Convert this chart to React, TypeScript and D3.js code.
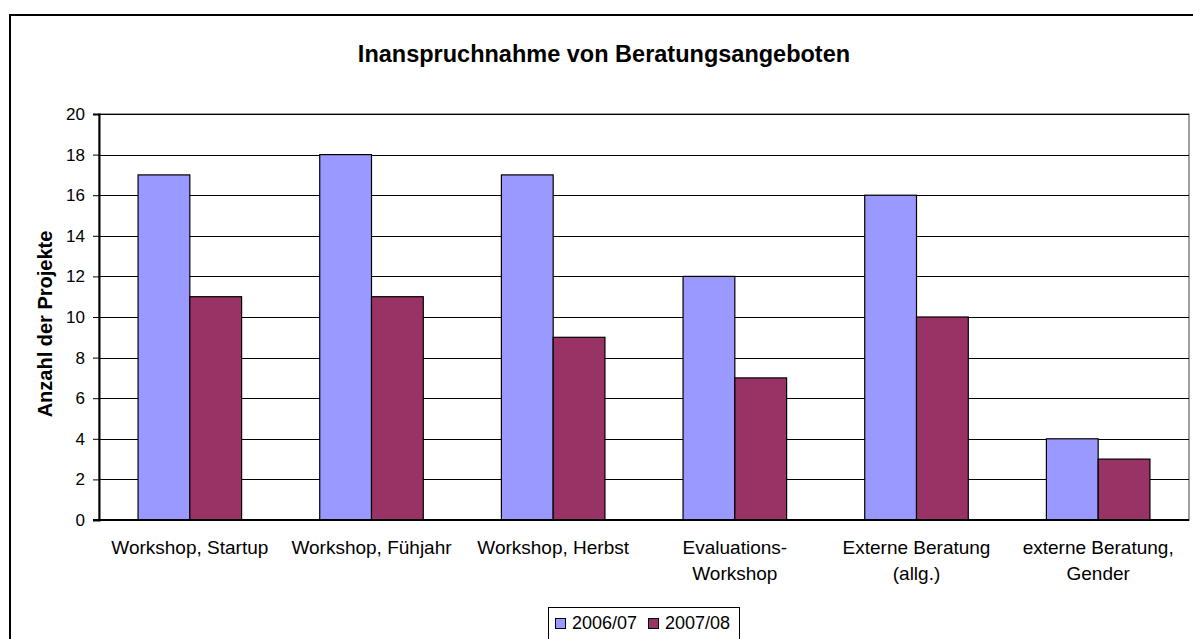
import React, { useRef, useEffect } from "react";
import * as d3 from "d3";

const categories = [
  ["Workshop, Startup"],
  ["Workshop, Fühjahr"],
  ["Workshop, Herbst"],
  ["Evaluations-", "Workshop"],
  ["Externe Beratung", "(allg.)"],
  ["externe Beratung,", "Gender"],
];
const seriesNames = ["2006/07", "2007/08"];
const values2006 = [17, 18, 17, 12, 16, 4];
const values2007 = [11, 11, 9, 7, 10, 3];
const yTicks = [0, 2, 4, 6, 8, 10, 12, 14, 16, 18, 20];
const colors = ["#9999FF", "#993366"];

const FONT = "'Liberation Sans', Arial, sans-serif";

const App = () => {
  const svgRef = useRef(null);
  const width = 1193;
  const height = 639;
  const plot = { left: 99, right: 1189, top: 114, bottom: 520 };

  useEffect(() => {
    const svg = d3.select(svgRef.current);
    svg.selectAll("*").remove();

    // outer chart border
    svg.append("rect")
      .attr("x", 10).attr("y", 15)
      .attr("width", 1200).attr("height", 660)
      .attr("fill", "white")
      .attr("stroke", "black")
      .attr("stroke-width", 2);

    svg.append("text")
      .attr("x", 604).attr("y", 62)
      .attr("text-anchor", "middle")
      .attr("font-family", FONT)
      .attr("font-weight", "bold")
      .attr("font-size", "23.5px")
      .text("Inanspruchnahme von Beratungsangeboten");

    const keys = categories.map((c) => c.join(" "));
    const x0 = d3.scaleBand()
      .domain(keys)
      .range([plot.left, plot.right])
      .paddingInner(0.43)
      .paddingOuter(0.215);
    const x1 = d3.scaleBand()
      .domain(seriesNames)
      .range([0, x0.bandwidth()]);
    const y = d3.scaleLinear().domain([0, 20]).range([plot.bottom, plot.top]);

    // plot area
    svg.append("rect")
      .attr("x", plot.left).attr("y", plot.top)
      .attr("width", plot.right - plot.left)
      .attr("height", plot.bottom - plot.top)
      .attr("fill", "white")
      .attr("stroke", "#808080")
      .attr("stroke-width", 1.5);

    // gridlines
    svg.append("g")
      .selectAll("line")
      .data(yTicks.filter((t) => t > 0))
      .join("line")
      .attr("x1", plot.left).attr("x2", plot.right)
      .attr("y1", (d) => Math.round(y(d)) + 0.5)
      .attr("y2", (d) => Math.round(y(d)) + 0.5)
      .attr("stroke", "black")
      .attr("stroke-width", 1);

    // bars
    const series = [values2006, values2007];
    const groups = svg.append("g")
      .selectAll("g")
      .data(keys)
      .join("g")
      .attr("transform", (d) => `translate(${x0(d)},0)`);
    groups.selectAll("rect")
      .data((d, i) => seriesNames.map((s, j) => ({ s, v: series[j][i], j })))
      .join("rect")
      .attr("x", (d) => x1(d.s))
      .attr("y", (d) => y(d.v))
      .attr("width", x1.bandwidth())
      .attr("height", (d) => y(0) - y(d.v))
      .attr("fill", (d) => colors[d.j])
      .attr("stroke", "black")
      .attr("stroke-width", 1.2);

    // y axis
    const yAxis = svg.append("g")
      .attr("transform", `translate(${plot.left},0)`)
      .call(d3.axisLeft(y).tickValues(yTicks).tickSize(6).tickPadding(8));
    yAxis.select(".domain").attr("stroke", "black").attr("stroke-width", 2);
    yAxis.selectAll(".tick line").attr("stroke", "black");
    yAxis.selectAll(".tick text")
      .attr("font-family", FONT)
      .attr("font-size", "17px")
      .attr("fill", "black");

    // x axis line
    svg.append("line")
      .attr("x1", plot.left - 6).attr("x2", plot.right)
      .attr("y1", plot.bottom).attr("y2", plot.bottom)
      .attr("stroke", "black")
      .attr("stroke-width", 2);

    // x labels
    const labels = svg.append("g");
    categories.forEach((lines, i) => {
      const cx = x0(keys[i]) + x0.bandwidth() / 2;
      const t = labels.append("text")
        .attr("text-anchor", "middle")
        .attr("font-family", FONT)
        .attr("font-size", "19px");
      lines.forEach((line, k) => {
        t.append("tspan")
          .attr("x", cx)
          .attr("y", 554 + k * 26)
          .text(line);
      });
    });

    // y axis title
    svg.append("text")
      .attr("transform", `translate(52,${(plot.top + plot.bottom) / 2 + 7}) rotate(-90)`)
      .attr("text-anchor", "middle")
      .attr("font-family", FONT)
      .attr("font-weight", "bold")
      .attr("font-size", "20px")
      .text("Anzahl der Projekte");

    // legend
    const legend = svg.append("g");
    legend.append("rect")
      .attr("x", 548.5).attr("y", 607.5)
      .attr("width", 191).attr("height", 40)
      .attr("fill", "white")
      .attr("stroke", "black")
      .attr("stroke-width", 1);
    const legendX = [555, 648];
    seriesNames.forEach((name, i) => {
      legend.append("rect")
        .attr("x", legendX[i] + 0.5).attr("y", 618.5)
        .attr("width", 10).attr("height", 10)
        .attr("fill", colors[i])
        .attr("stroke", "black")
        .attr("stroke-width", 1);
      legend.append("text")
        .attr("x", legendX[i] + 17).attr("y", 629)
        .attr("font-family", FONT)
        .attr("font-size", "18px")
        .text(name);
    });
  }, []);

  return (
    <div>
      <svg
        ref={svgRef}
        width={width}
        height={height}
        style={{ position: "absolute", left: 0, top: 0, background: "white" }}
      />
    </div>
  );
};

export default App;
